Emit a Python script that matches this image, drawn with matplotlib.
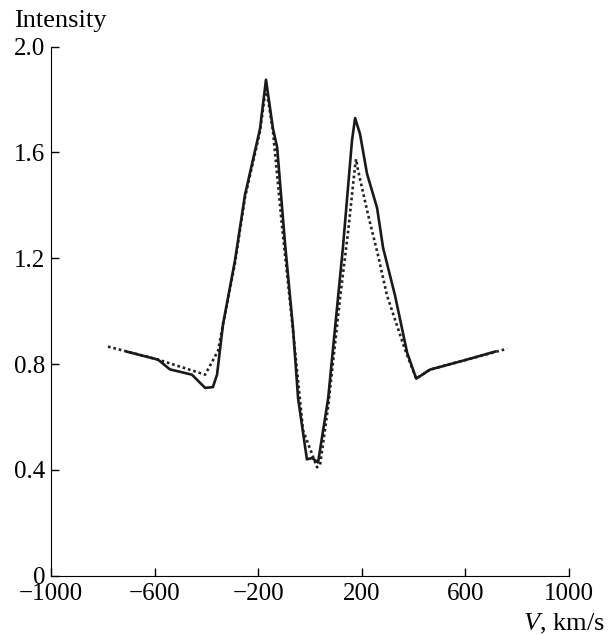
import matplotlib
matplotlib.use("Agg")
import matplotlib.pyplot as plt

# observed profile (solid)
v_obs = [-707, -587, -541, -456, -405, -375, -359, -336, -290, -251, -193, -170,
         -143, -127, -96, -66, -46, -12, 8, 31, 70, 108, 127, 162, 174, 193,
         220, 259, 282, 328, 375, 410, 463, 591, 714]
i_obs = [0.847, 0.817, 0.78, 0.76, 0.71, 0.713, 0.76, 0.95, 1.19, 1.44, 1.69, 1.875,
         1.69, 1.62, 1.25, 0.94, 0.67, 0.44, 0.445, 0.428, 0.67, 1.05, 1.24, 1.645, 1.73, 1.67,
         1.52, 1.39, 1.24, 1.06, 0.843, 0.745, 0.779, 0.813, 0.847]

# model profile (dotted)
v_mod = [-780, -587, -405, -355, -336, -290, -251, -193, -170, -143, -108, -66,
         -27, 27, 39, 70, 116, 147, 174, 178, 185, 224, 263, 297, 367, 410,
         463, 591, 761]
i_mod = [0.866, 0.817, 0.76, 0.85, 0.95, 1.18, 1.43, 1.68, 1.85, 1.68, 1.32, 0.93,
         0.55, 0.41, 0.42, 0.64, 1.05, 1.30, 1.55, 1.575, 1.535, 1.365, 1.21, 1.06, 0.854, 0.745,
         0.779, 0.813, 0.858]

x_ticks = [-1000, -600, -200, 200, 600, 1000]
y_ticks = [0, 0.4, 0.8, 1.2, 1.6, 2.0]
y_labels = ["0", "0.4", "0.8", "1.2", "1.6", "2.0"]

plt.rcParams["font.family"] = ["Liberation Serif", "DejaVu Serif"]
plt.rcParams["font.size"] = 18
plt.rcParams["mathtext.fontset"] = "custom"
plt.rcParams["mathtext.rm"] = "Liberation Serif"
plt.rcParams["mathtext.it"] = "Liberation Serif:italic"

fig = plt.figure(figsize=(6.08, 6.35), dpi=100)
ax = fig.add_axes([0.0839, 0.0934, 0.852, 0.8331])

ax.plot(v_mod, i_mod, color="#222222", lw=1.9, linestyle=(0, (1, 1.1)))
ax.plot(v_obs, i_obs, color="#1a1a1a", lw=1.9)

ax.set_xlim(-1000, 1000)
ax.set_ylim(0, 2.0)
ax.set_xticks(x_ticks)
ax.set_xticklabels([str(t).replace("-", "\u2212") for t in x_ticks])
ax.set_yticks(y_ticks)
ax.set_yticklabels(y_labels)
ax.tick_params(direction="in", length=6, width=1)
ax.tick_params(axis="x", pad=5)
ax.tick_params(axis="y", pad=4)

ax.spines["top"].set_visible(False)
ax.spines["right"].set_visible(False)

fig.text(0.024, 0.967, "Intensity", ha="left", va="center", fontsize=19)
fig.text(0.995, 0.018, "$\\mathit{V}$, km/s", ha="right", va="center", fontsize=19)

fig.savefig("out.png", dpi=100)
